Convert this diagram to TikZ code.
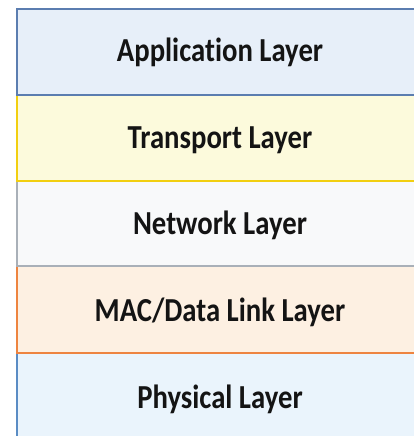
\documentclass[tikz,border=0pt]{standalone}
\usepackage{fontspec}
\setmainfont[Ligatures={NoCommon}]{Carlito}
\begin{document}
\begin{tikzpicture}[x=1pt,y=-1pt,
  layer/.style={line width=1.8pt, line join=miter},
  lbl/.style={anchor=base, inner sep=0pt, font=\fontsize{28.7}{32}\selectfont\bfseries, text=black!92}]
\definecolor{appfill}{HTML}{E7EFF9}\definecolor{appline}{HTML}{5B7DB0}
\definecolor{trfill}{HTML}{FCFADC}\definecolor{trline}{HTML}{F2CF10}
\definecolor{netfill}{HTML}{F8F9FA}\definecolor{netline}{HTML}{A9B0B8}
\definecolor{macfill}{HTML}{FDF0E2}\definecolor{macline}{HTML}{EE8440}
\definecolor{phyfill}{HTML}{EAF4FC}\definecolor{phyline}{HTML}{5A8CC4}
\newcommand{\tall}[1]{\scalebox{1}[1.17]{#1}}
\useasboundingbox (0,0) rectangle (414,436);
\fill[white] (0,0) rectangle (414,436);
% stack drawn bottom-up so each layer's lower edge stays on top
\draw[layer, draw=phyline, fill=phyfill] (17,353) rectangle (424,450);
\draw[layer, draw=macline, fill=macfill] (17,266) rectangle (424,353);
\draw[layer, draw=netline, fill=netfill] (17,181) rectangle (424,266);
\draw[layer, draw=trline, fill=trfill] (17,95) rectangle (424,181);
\draw[layer, draw=appline, fill=appfill] (17,9) rectangle (424,95);
\node[lbl] (app) at (220,62) {\tall{Application Layer}};
\node[lbl] (tr)  at (220,148) {\tall{Transport Layer}};
\node[lbl] (net) at (220,234) {\tall{Network Layer}};
\node[lbl] (mac) at (220,321) {\tall{MAC/Data Link Layer}};
\node[lbl] (phy) at (220,408) {\tall{Physical Layer}};
\end{tikzpicture}
\end{document}
